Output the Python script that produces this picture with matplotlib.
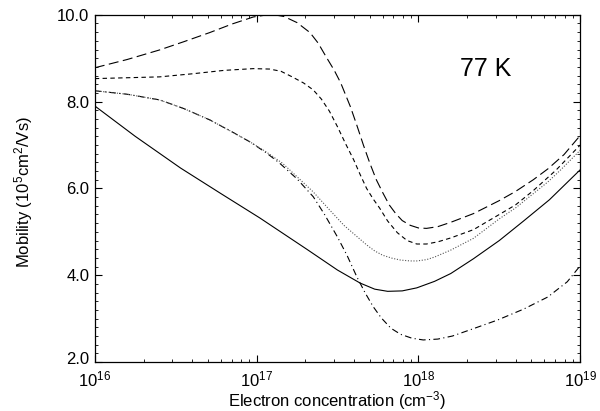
import numpy as np
import matplotlib
matplotlib.use("Agg")
import matplotlib.pyplot as plt
import matplotlib.transforms as mtransforms
from matplotlib.ticker import LogLocator, MultipleLocator, NullFormatter

plt.rcParams.update({
    "font.family": ["Liberation Sans", "DejaVu Sans"],
    "mathtext.fontset": "custom",
    "mathtext.rm": "Liberation Sans",
    "mathtext.default": "regular",
    "xtick.direction": "in",
    "ytick.direction": "in",
    "xtick.top": True,
    "ytick.right": True,
})

# ── Data (log10 of electron concentration, mobility in 1e5 cm^2/Vs) ─────────
LD_X = [16.00, 16.20, 16.40, 16.55, 16.71, 16.85, 16.98, 17.05, 17.11, 17.17,
        17.25, 17.33, 17.38, 17.43, 17.48, 17.52, 17.58, 17.62, 17.66, 17.70,
        17.74, 17.78, 17.82, 17.86, 17.90, 17.95, 18.00, 18.05, 18.12, 18.20,
        18.34, 18.50, 18.60, 18.71, 18.80, 18.90, 19.00]
LD_Y = [8.78, 8.97, 9.19, 9.38, 9.59, 9.79, 9.95, 9.99, 10.00, 9.96,
        9.82, 9.59, 9.35, 9.03, 8.72, 8.43, 7.88, 7.45, 7.00, 6.58,
        6.20, 5.90, 5.62, 5.42, 5.26, 5.15, 5.09, 5.08, 5.12, 5.22,
        5.42, 5.72, 5.93, 6.20, 6.45, 6.78, 7.22]

SD_X = [16.00, 16.20, 16.40, 16.60, 16.80, 16.98, 17.08, 17.15, 17.22, 17.29,
        17.35, 17.40, 17.45, 17.50, 17.55, 17.60, 17.64, 17.68, 17.72, 17.76,
        17.81, 17.87, 17.93, 17.99, 18.05, 18.12, 18.20, 18.34, 18.50, 18.60,
        18.71, 18.85, 19.00]
SD_Y = [8.53, 8.55, 8.57, 8.64, 8.72, 8.76, 8.75, 8.70, 8.57, 8.43,
        8.27, 8.06, 7.78, 7.42, 7.03, 6.66, 6.32, 6.00, 5.76, 5.55,
        5.25, 4.98, 4.80, 4.72, 4.72, 4.77, 4.86, 5.05, 5.40, 5.62,
        5.95, 6.42, 7.00]

DD_X = [16.00, 16.20, 16.40, 16.55, 16.71, 16.85, 16.96, 17.06, 17.14, 17.25,
        17.35, 17.42, 17.50, 17.56, 17.62, 17.67, 17.72, 17.77, 17.83, 17.89,
        17.96, 18.03, 18.12, 18.21, 18.34, 18.49, 18.65, 18.80, 18.92, 19.00]
DD_Y = [8.25, 8.17, 8.04, 7.84, 7.58, 7.30, 7.07, 6.82, 6.59, 6.22,
        5.81, 5.40, 4.88, 4.45, 3.96, 3.60, 3.28, 3.02, 2.78, 2.64,
        2.55, 2.51, 2.53, 2.60, 2.77, 2.97, 3.22, 3.50, 3.85, 4.22]

DT_X = [16.00, 16.20, 16.40, 16.55, 16.71, 16.85, 16.96, 17.06, 17.16, 17.25,
        17.35, 17.45, 17.54, 17.63, 17.68, 17.73, 17.78, 17.84, 17.89, 17.95,
        17.99, 18.05, 18.10, 18.20, 18.34, 18.50, 18.60, 18.71, 18.80, 18.88,
        19.00]
DT_Y = [8.25, 8.17, 8.04, 7.84, 7.58, 7.30, 7.07, 6.84, 6.58, 6.27,
        5.92, 5.51, 5.15, 4.86, 4.70, 4.56, 4.46, 4.39, 4.35, 4.33,
        4.33, 4.36, 4.42, 4.58, 4.85, 5.30, 5.55, 5.88, 6.15, 6.43,
        6.88]

SO_X = [16.00, 16.25, 16.53, 16.78, 17.02, 17.31, 17.50, 17.64, 17.73, 17.81,
        17.90, 17.99, 18.10, 18.20, 18.34, 18.50, 18.65, 18.81, 19.00]
SO_Y = [7.90, 7.20, 6.47, 5.88, 5.32, 4.60, 4.12, 3.82, 3.68, 3.63,
        3.64, 3.71, 3.86, 4.04, 4.38, 4.80, 5.25, 5.74, 6.43]

fig = plt.figure(figsize=(6.0, 4.11), dpi=100)
ax = fig.add_axes([0.158, 0.119, 0.809, 0.845])

lw = 0.8
ax.plot(10.0 ** np.array(LD_X), LD_Y, color="black", lw=lw, dashes=(9, 4))
ax.plot(10.0 ** np.array(SD_X), SD_Y, color="black", lw=lw, dashes=(4, 3))
ax.plot(10.0 ** np.array(DD_X), DD_Y, color="black", lw=lw, dashes=(6, 3, 1, 3))
ax.plot(10.0 ** np.array(DT_X), DT_Y, color="#555555", lw=lw, dashes=(1, 1.5))
ax.plot(10.0 ** np.array(SO_X), SO_Y, color="black", lw=lw)

ax.set_xscale("log")
ax.set_xlim(1e16, 1e19)
ax.set_ylim(2.0, 10.0)
ax.set_yticks([2, 4, 6, 8, 10])
ax.set_yticklabels(["2.0", "4.0", "6.0", "8.0", "10.0"])
ax.yaxis.set_minor_locator(MultipleLocator(0.2))
ax.xaxis.set_major_locator(LogLocator(base=10, numticks=10))
ax.xaxis.set_minor_locator(LogLocator(base=10, subs=np.arange(2, 10), numticks=20))
ax.xaxis.set_minor_formatter(NullFormatter())

ax.tick_params(which="major", length=5, width=0.8, labelsize=12, pad=4)
ax.tick_params(axis="x", which="major", pad=5)
ax.tick_params(which="minor", length=2.5, width=0.6)
for sp in ax.spines.values():
    sp.set_linewidth(0.9)

ax.set_xlabel("Electron concentration (cm$^{-3}$)", fontsize=12, labelpad=0)
ax.set_ylabel("Mobility (10$^{5}$cm$^{2}$/Vs)", fontsize=12)
ax.yaxis.set_label_coords(-0.124, 0.49)

ax.text(0.805, 0.845, "77 K", transform=ax.transAxes, fontsize=18,
        ha="center", va="center")

# nudge the lowest y label up a little so it clears 10^16
fig.canvas.draw()
lab0 = ax.get_yticklabels()[0]
lab0.set_transform(lab0.get_transform() +
                   mtransforms.ScaledTranslation(0, 3 / 72, fig.dpi_scale_trans))

fig.savefig("out.png", dpi=100)
